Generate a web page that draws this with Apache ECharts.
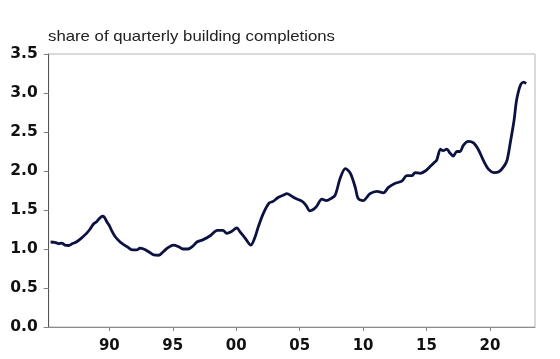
<!DOCTYPE html>
<html>
<head>
<meta charset="utf-8">
<script src="https://cdn.jsdelivr.net/npm/echarts@6/dist/echarts.min.js"></script>
<style>
html,body{margin:0;padding:0;background:#fff;}
#chart{width:560px;height:359px;}
</style>
</head>
<body>
<div id="chart"></div>
<script>
const titleText = "share of quarterly building completions";
const years = [1985.37,1985.7,1986.0,1986.25,1986.5,1986.8,1987.1,1987.4,1987.8,1988.2,1988.5,1988.75,1989.0,1989.27,1989.45,1989.6,1989.8,1990.0,1990.2,1990.45,1990.85,1991.1,1991.4,1991.8,1992.2,1992.4,1992.7,1993.1,1993.5,1993.9,1994.25,1994.65,1995.05,1995.45,1995.8,1996.2,1996.6,1996.9,1997.4,1997.95,1998.5,1998.95,1999.25,1999.6,2000.05,2000.3,2000.7,2001.15,2001.5,2001.75,2002.15,2002.6,2002.9,2003.3,2003.7,2004.0,2004.35,2004.65,2005.2,2005.5,2005.8,2006.1,2006.35,2006.75,2007.1,2007.5,2007.8,2008.2,2008.6,2009.0,2009.4,2009.6,2010.0,2010.55,2011.1,2011.6,2012.0,2012.5,2013.05,2013.45,2013.85,2014.1,2014.5,2014.9,2015.3,2015.55,2015.8,2016.1,2016.3,2016.6,2016.85,2017.1,2017.4,2017.65,2017.9,2018.3,2018.7,2019.1,2019.5,2019.9,2020.3,2020.7,2021.1,2021.35,2021.6,2021.9,2022.1,2022.4,2022.65,2022.85];
const values = [1.09,1.085,1.07,1.075,1.05,1.045,1.07,1.09,1.14,1.20,1.26,1.32,1.35,1.40,1.42,1.41,1.35,1.30,1.23,1.16,1.09,1.06,1.03,0.99,0.99,1.01,1.00,0.965,0.925,0.92,0.965,1.02,1.05,1.03,1.00,1.00,1.04,1.09,1.12,1.17,1.24,1.24,1.20,1.22,1.27,1.22,1.14,1.05,1.16,1.29,1.46,1.59,1.61,1.66,1.69,1.71,1.68,1.65,1.61,1.56,1.49,1.51,1.55,1.64,1.62,1.65,1.69,1.91,2.03,1.97,1.78,1.65,1.62,1.71,1.74,1.72,1.79,1.84,1.87,1.94,1.94,1.98,1.97,2.00,2.06,2.10,2.14,2.28,2.26,2.28,2.23,2.19,2.25,2.25,2.33,2.38,2.36,2.27,2.13,2.02,1.98,1.99,2.06,2.14,2.36,2.65,2.91,3.10,3.14,3.12];
const xTickYears = [1990,1995,2000,2005,2010,2015,2020];
const xTickLabels = ["90","95","00","05","10","15","20"];

const titleFont = '14.5px "Liberation Sans", Arial, sans-serif';
const targetTitleWidth = 287;
const ctx = document.createElement('canvas').getContext('2d');
ctx.font = titleFont;
const measured = ctx.measureText(titleText).width || targetTitleWidth;
const titleScale = targetTitleWidth / measured;

const labelFont = '"DejaVu Sans", "Liberation Sans", Arial, sans-serif';

const chart = echarts.init(document.getElementById('chart'), null, {renderer:'canvas'});
chart.setOption({
  animation:false,
  backgroundColor:'#fff',
  graphic:[{
    type:'text', x:48, y:37, scaleX:titleScale, scaleY:1,
    style:{text:titleText, font:titleFont, fill:'#222', verticalAlign:'middle', align:'left'}
  }],
  grid:{left:48.7,right:25,top:54,bottom:32,show:true,borderColor:'#b4b4b4',borderWidth:1},
  xAxis:{
    type:'value',min:1985.22,max:2023.55,
    axisLine:{show:true,lineStyle:{color:'#8c8c8c',width:1}},
    axisTick:{show:true,length:4,customValues:xTickYears,lineStyle:{color:'#808080'}},
    axisLabel:{customValues:xTickYears,margin:12,formatter:v=>xTickLabels[xTickYears.indexOf(Math.round(v))]||'',
      fontFamily:labelFont,fontSize:15,fontWeight:'bold',color:'#111'},
    splitLine:{show:false}
  },
  yAxis:{
    type:'value',min:0,max:3.5,interval:0.5,
    axisLine:{show:true,lineStyle:{color:'#555',width:1}},
    axisTick:{show:true,length:5,lineStyle:{color:'#808080'}},
    axisLabel:{margin:11,formatter:v=>v.toFixed(1),fontFamily:labelFont,fontSize:15.5,fontWeight:'bold',color:'#111'},
    splitLine:{show:false}
  },
  series:[{
    type:'line',data:years.map((y,i)=>[y,values[i]]),showSymbol:false,smooth:0.3,
    lineStyle:{color:'#0b1242',width:2.8},
    clip:true
  }]
});
</script>
</body>
</html>
